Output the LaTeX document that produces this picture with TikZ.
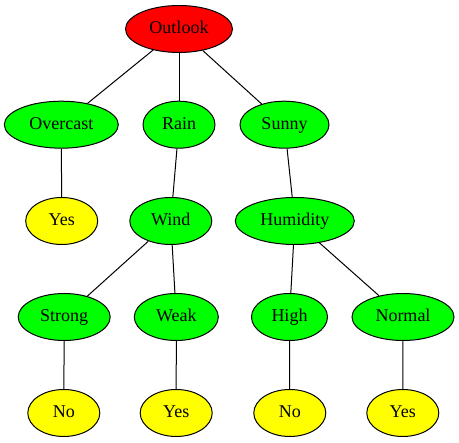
\documentclass[tikz,border=0pt]{standalone}
\usepackage{fontspec}
\setmainfont{Liberation Serif}
\usetikzlibrary{shapes.geometric}
\definecolor{gvred}{HTML}{FF0000}
\definecolor{gvgreen}{HTML}{00FF00}
\definecolor{gvyellow}{HTML}{FFFF00}
\begin{document}
\begin{tikzpicture}[x=1pt,y=-1pt,
  gvnode/.style={ellipse,draw=black,line width=1pt,inner sep=0pt,minimum height=47pt,
    text height=11pt,text depth=1.6pt,
    font=\fontsize{18}{20}\selectfont},
  rootnode/.style={gvnode,fill=gvred},
  innernode/.style={gvnode,fill=gvgreen},
  leafnode/.style={gvnode,fill=gvyellow,minimum width=72pt},
  edge/.style={draw=black,line width=1pt}]
\useasboundingbox (0,0) rectangle (459,443);
\node[rootnode,minimum width=107pt] (outlook) at (179,29) {Outlook};
\node[innernode,minimum width=114pt] (overcast) at (61.3,124.7) {Overcast};
\node[innernode,minimum width=72pt] (rain) at (179,124.7) {Rain};
\node[innernode,minimum width=89pt] (sunny) at (284.5,124.7) {Sunny};
\node[leafnode] (yes1) at (61.7,221) {Yes};
\node[innernode,minimum width=82pt] (wind) at (170.8,221) {Wind};
\node[innernode,minimum width=119pt] (humidity) at (294.8,221) {Humidity};
\node[innernode,minimum width=92pt] (strong) at (64.2,317) {Strong};
\node[innernode,minimum width=84pt] (weak) at (176.3,317) {Weak};
\node[innernode,minimum width=76pt] (high) at (289.5,317) {High};
\node[innernode,minimum width=102pt] (normal) at (403,317) {Normal};
\node[leafnode] (no1) at (63.8,413) {No};
\node[leafnode] (yes2) at (176.2,413) {Yes};
\node[leafnode] (no2) at (289.8,413) {No};
\node[leafnode] (yes3) at (402.8,413) {Yes};
\draw[edge] (outlook) -- (overcast);
\draw[edge] (outlook) -- (rain);
\draw[edge] (outlook) -- (sunny);
\draw[edge] (overcast) -- (yes1);
\draw[edge] (rain) -- (wind);
\draw[edge] (sunny) -- (humidity);
\draw[edge] (wind) -- (strong);
\draw[edge] (wind) -- (weak);
\draw[edge] (humidity) -- (high);
\draw[edge] (humidity) -- (normal);
\draw[edge] (strong) -- (no1);
\draw[edge] (weak) -- (yes2);
\draw[edge] (high) -- (no2);
\draw[edge] (normal) -- (yes3);
\end{tikzpicture}
\end{document}
